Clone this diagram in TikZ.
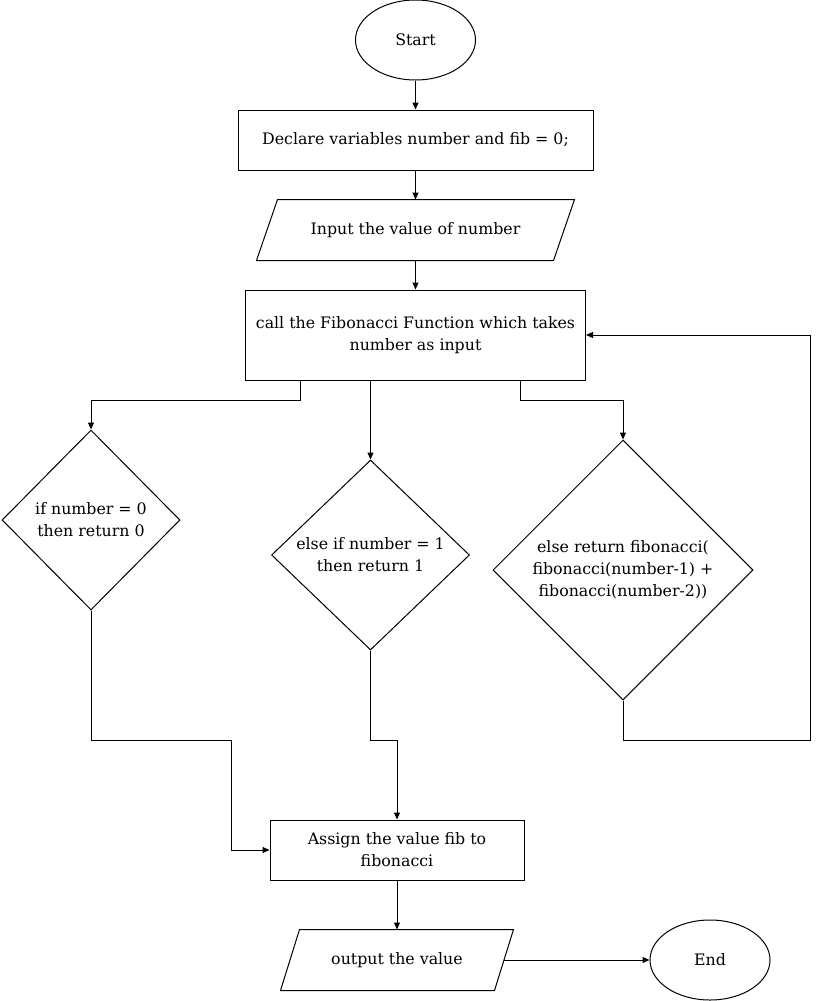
\documentclass[tikz,border=0pt]{standalone}
\usepackage{fontspec}
\setmainfont{DejaVu Serif}
\usetikzlibrary{shapes.geometric,arrows.meta}
\newcommand{\flowfont}{\fontsize{15.8pt}{22pt}\selectfont}
\begin{document}
\begin{tikzpicture}[x=1pt,y=-1pt,
  line width=1pt,
  base/.style={font=\flowfont, align=center, inner sep=0pt},
  term/.style={base, draw, ellipse, minimum width=120pt, minimum height=80pt},
  proc/.style={base, draw, rectangle},
  iobox/.style={base, rectangle},
  dec/.style={base, draw, diamond},
  arr/.style={-{Triangle[length=7pt,width=6pt]}}
]
\useasboundingbox (0,0) rectangle (819,1001);

% nodes
\node[term] (start) at (415.5,40) {Start};
\node[proc, minimum width=355pt, minimum height=60pt] (decl) at (415.5,140) {Declare variables number and fib = 0;};
\node[iobox, minimum width=296pt, minimum height=60pt] (inp) at (415.5,230) {Input the value of number};
\draw ([xshift=10.5pt]inp.north west) -- ([xshift=10.5pt]inp.north east)
   -- ([xshift=-10.5pt]inp.south east) -- ([xshift=-10.5pt]inp.south west) -- cycle;
\node[proc, minimum width=340pt, minimum height=90pt] (call) at (415.5,335) {call the Fibonacci Function which takes\\number as input};
\node[dec, minimum width=178pt, minimum height=180pt] (d0) at (91,520) {if number = 0\\then return 0};
\node[dec, minimum width=198pt, minimum height=190pt] (d1) at (370.5,555) {else if number = 1\\then return 1};
\node[dec, minimum width=260pt, minimum height=260pt] (d2) at (623,570) {else return fibonacci(\\fibonacci(number-1) +\\fibonacci(number-2))};
\node[proc, minimum width=254pt, minimum height=60pt] (assign) at (397,850) {Assign the value fib to\\fibonacci};
\node[iobox, minimum width=213pt, minimum height=60pt] (out) at (397,960) {output the value};
\draw ([xshift=9.5pt]out.north west) -- ([xshift=9.5pt]out.north east)
   -- ([xshift=-9.5pt]out.south east) -- ([xshift=-9.5pt]out.south west) -- cycle;
\node[term] (end) at (710,960) {End};

% junction points
\coordinate (jl) at (231,740);
\coordinate (jm) at (397,740);
\coordinate (jr) at (810,740);

% connectors
\draw[arr] (start) -- (decl);
\draw[arr] (decl) -- (inp);
\draw[arr] (inp) -- (call);
\draw[arr] ([xshift=-115pt]call.south) -- ++(0,20) -| (d0.north);
\draw[arr] ([xshift=-45pt]call.south) -- (d1.north);
\draw[arr] ([xshift=105pt]call.south) -- ++(0,20) -| (d2.north);
\draw[arr] (d2.south) |- (jr) |- (call.east);
\draw[arr] (d0.south) |- (jl) |- (assign.west);
\draw[arr] (d1.south) |- (jm) -- (assign.north);
\draw[arr] (assign) -- (out);
\draw[arr] (out) -- (end);
\end{tikzpicture}
\end{document}
